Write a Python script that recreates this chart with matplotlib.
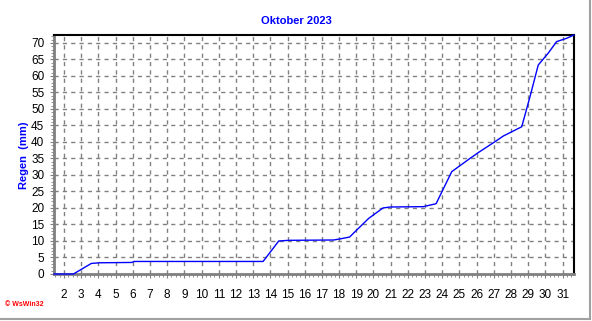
import numpy as np
import matplotlib.pyplot as plt
from matplotlib.ticker import MultipleLocator

plt.rcParams['font.family'] = ['Liberation Sans', 'DejaVu Sans']

# cumulative rain, October 2023 (day of month, mm)
days = [1.42, 2.55, 3.59, 4.09, 5.95, 6.07, 13.58, 14.49, 15.07, 17.68, 18.03,
        18.61, 19.71, 20.55, 20.97, 22.9, 23.64, 24.55, 25.5, 26.1, 27.07,
        27.55, 28.62, 29.1, 29.58, 30.16, 30.65, 31.23, 31.66]
rain = [0.0, 0.0, 3.2, 3.4, 3.5, 3.8, 3.8, 10.0, 10.2, 10.3, 10.6,
        11.2, 16.8, 20.0, 20.3, 20.4, 21.3, 31.0, 34.6, 36.8, 40.1,
        41.8, 44.6, 53.7, 63.3, 66.9, 70.4, 71.4, 72.4]
day_ticks = list(range(2, 32))
mm_ticks = list(range(0, 71, 5))

fig = plt.figure(figsize=(5.92, 3.21), dpi=100)
ax = fig.add_axes([54/592, 47/321, 520/592, 239/321])

ax.plot(days, rain, color='#0000ff', linewidth=1, clip_on=False, zorder=5)

ax.set_xlim(1.42, 31.66)
ax.set_ylim(0, 72.4)
ax.set_xticks(day_ticks)
ax.set_yticks(mm_ticks)
ax.xaxis.set_minor_locator(MultipleLocator(0.25))
ax.yaxis.set_minor_locator(MultipleLocator(1))
ax.grid(True, which='major', color='#808080', linestyle=(0, (3, 3)), linewidth=1)
ax.tick_params(which='major', direction='out', length=3, color='#808080',
               labelsize=8.5, pad=4)
ax.tick_params(which='minor', direction='out', length=2, color='#808080')
ax.tick_params(axis='x', pad=8)

for s in ['top', 'right']:
    ax.spines[s].set_color('black')
    ax.spines[s].set_linewidth(1.5)
for s in ['left', 'bottom']:
    ax.spines[s].set_color('#808080')
    ax.spines[s].set_linewidth(2)

fig.text(296/592, 1 - 21/321, 'Oktober 2023', color='#0000ff', fontweight='bold',
         fontsize=8, ha='center', va='center')
fig.text(24/592, 1 - 155/321, 'Regen  (mm)', color='#0000ff', fontweight='bold',
         fontsize=8, ha='center', va='center', rotation=90)
fig.text(5/592, 1 - 304/321, '\u00a9 WsWin32', color='#ff0000', fontweight='bold',
         fontsize=5, ha='left', va='center')

# outer frame lines (right and bottom)
fig.add_artist(plt.Line2D([590/592, 590/592], [2/321, 1], color='#a0a0a0',
                          linewidth=1.5, transform=fig.transFigure))
fig.add_artist(plt.Line2D([0, 590/592], [2/321, 2/321], color='#a0a0a0',
                          linewidth=1.5, transform=fig.transFigure))

fig.savefig('out.png', dpi=100)
